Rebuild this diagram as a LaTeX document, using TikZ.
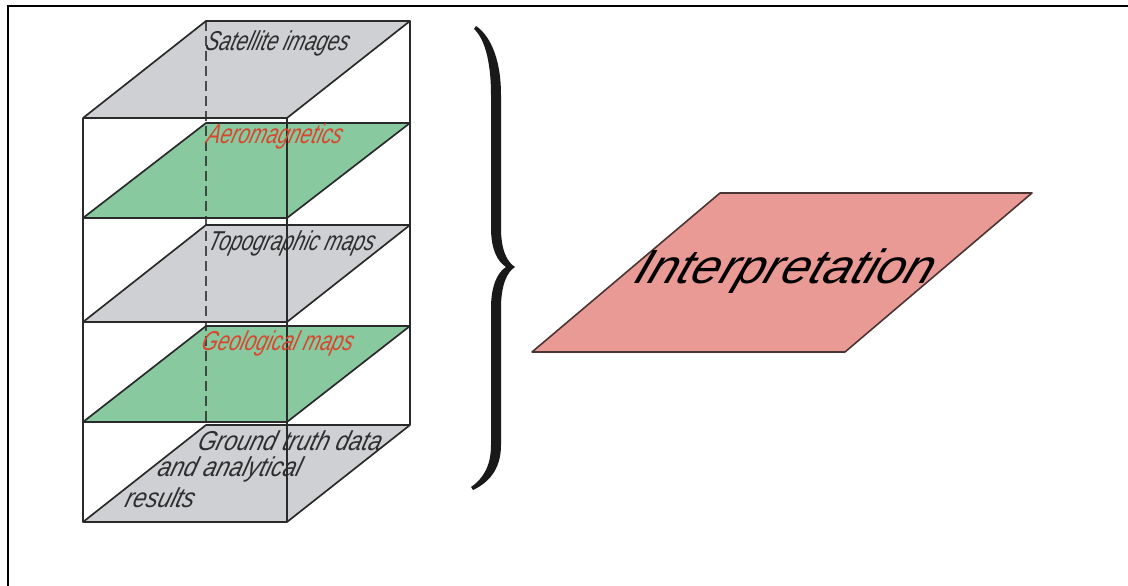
\documentclass[tikz,border=0pt]{standalone}
\usepackage{fontspec}
\setmainfont{Liberation Sans}
\definecolor{planegray}{HTML}{CFD0D4}
\definecolor{planegreen}{HTML}{88C9A0}
\definecolor{planepink}{HTML}{EA9A94}
\definecolor{labelgray}{HTML}{2E2E2E}
\definecolor{labelred}{HTML}{D9462E}
\definecolor{edgecol}{HTML}{2A2A2A}
\definecolor{pinkedge}{HTML}{4A3434}
\begin{document}
\begin{tikzpicture}[x=1pt,y=1pt,
  plane/.style={draw=edgecol, line width=1.7pt, line join=round},
  grayp/.style={plane, fill=planegray},
  greenp/.style={plane, fill=planegreen},
  pinkp/.style={draw=pinkedge, line width=1.6pt, line join=round, fill=planepink},
  edge/.style={draw=edgecol, line width=1.7pt},
  hidden/.style={draw=edgecol, line width=1.6pt, dash pattern=on 10pt off 5pt, opacity=0.8},
  lbl/.style={font=\itshape\fontsize{26}{28}\selectfont, xscale=0.78, yscale=1.05, xslant=0.38, transform shape, inner sep=0pt},
  gtl/.style={lbl, xscale=0.9/0.78},
  big/.style={font=\itshape\fontsize{48}{50}\selectfont, xscale=1.05, xslant=0.35, transform shape, inner sep=0pt}]
\useasboundingbox (0,0) rectangle (1128,-586);
% frame
\draw[line width=2.2pt] (8,-586) -- (8,-6) -- (1128,-6);
% stacked planes
\foreach \f/\b/\s in {118/21/grayp, 218/123/greenp, 322/225/grayp, 422/326/greenp, 522/425/grayp}
  \draw[\s] (83,-\f) -- (287,-\f) -- (410,-\b) -- (206,-\b) -- cycle;
% box edges
\coordinate (fl1) at (83,-118);  \coordinate (fl2) at (83,-522);
\coordinate (fr1) at (287,-118); \coordinate (fr2) at (287,-522);
\coordinate (br1) at (410,-21);  \coordinate (br2) at (410,-425);
\coordinate (bl1) at (206,-21);  \coordinate (bl2) at (206,-425);
\draw[edge] (fl1) -- (fl2);
\draw[edge] (fr1) -- (fr2);
\draw[edge] (br1) -- (br2);
\draw[hidden] (bl1) -- (bl2);
% labels
\node[lbl, text=labelgray] (sat) at (278,-43) {Satellite images};
\node[lbl, text=labelred] (aero) at (275,-136) {Aeromagnetics};
\node[lbl, text=labelgray] (topo) at (292,-243) {Topographic maps};
\node[lbl, text=labelred] (geo) at (278,-343) {Geological maps};
\node[gtl, text=labelgray] (gt1) at (291,-441) {Ground truth data};
\node[gtl, text=labelgray] (gt2) at (230,-469) {and analytical};
\node[gtl, text=labelgray] (gt3) at (161,-498) {results};
% brace
\fill[black!90] (476,-26) .. controls (488,-34) and (501,-55) .. (501,-95)
  -- (501,-228) .. controls (501,-250) and (507,-262) .. (515,-267)
  .. controls (507,-272) and (501,-285) .. (501,-308)
  -- (501,-445) .. controls (501,-470) and (488,-483) .. (473,-490)
  -- (471,-487) .. controls (484,-478) and (491,-465) .. (491,-445)
  -- (491,-308) .. controls (491,-285) and (498,-272) .. (506,-267)
  .. controls (498,-262) and (491,-250) .. (491,-228)
  -- (491,-95) .. controls (491,-60) and (484,-38) .. (474,-29) -- cycle;
% interpretation plane
\draw[pinkp] (532,-352) -- (845,-352) -- (1032,-193) -- (720,-193) -- cycle;
\node[big, text=black] (interp) at (786,-271) {Interpretation};
\end{tikzpicture}
\end{document}
